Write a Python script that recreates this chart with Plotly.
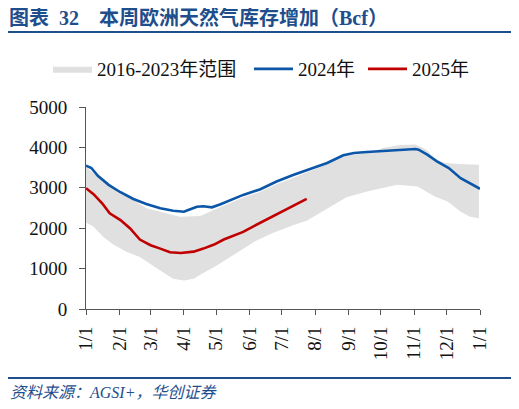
import plotly.graph_objects as go

# day of year (0 = 1/1, 366 = next 1/1), values in Bcf
days_2024 = [0, 5, 11, 21, 32, 44, 56, 69, 81, 91, 95, 103, 109, 117, 125, 131, 146, 162,
             177, 193, 208, 224, 239, 249, 261, 277, 292, 306, 309, 317, 326, 337, 348, 357, 366]
vals_2024 = [3547, 3489, 3297, 3073, 2890, 2724, 2600, 2492, 2434, 2409, 2450, 2533, 2542,
             2517, 2591, 2658, 2824, 2965, 3156, 3322, 3464, 3613, 3804, 3862, 3887, 3920,
             3945, 3962, 3945, 3821, 3655, 3489, 3239, 3115, 2974]

days_2025 = [0, 7, 15, 22, 32, 41, 50, 60, 69, 78, 88, 100, 109, 119, 128, 137, 146, 156,
             165, 174, 184, 193, 205]
vals_2025 = [2990, 2841, 2616, 2367, 2201, 1993, 1719, 1578, 1495, 1404, 1387, 1420, 1495,
             1595, 1719, 1819, 1910, 2052, 2176, 2301, 2434, 2550, 2724]

# 2016-2023 range
band_hi_days = [0, 22, 38, 56, 87, 106, 125, 146, 162, 177, 193, 208, 224, 239, 261, 277,
                292, 306, 316, 325, 334, 346, 365]
band_hi_vals = [3513, 3032, 2799, 2492, 2284, 2301, 2525, 2760, 2900, 3090, 3250, 3400,
                3580, 3780, 3860, 3989, 4060, 4071, 3946, 3697, 3615, 3590, 3572]
band_lo_days = [0, 7, 16, 25, 38, 50, 60, 69, 81, 91, 100, 109, 122, 137, 156, 174, 193,
                205, 224, 242, 261, 289, 308, 324, 336, 348, 357, 365]
band_lo_vals = [2143, 2035, 1786, 1603, 1412, 1287, 1121, 955, 748, 706, 748, 889, 1080,
                1329, 1661, 1885, 2077, 2184, 2492, 2766, 2907, 3074, 3032, 2782, 2658,
                2408, 2284, 2244]

month_days = [0, 31, 60, 91, 121, 152, 182, 213, 244, 274, 305, 335, 366]
month_labels = ["1/1", "2/1", "3/1", "4/1", "5/1", "6/1", "7/1", "8/1", "9/1", "10/1",
                "11/1", "12/1", "1/1"]

serif = "Liberation Serif, Times New Roman, Noto Sans CJK SC"
navy = "#1F4E8C"

# page body has an 8px margin, so the figure is 8px smaller and everything sits 8px in
W, H, OFF = 511, 401, 8
PL, PT, PW, PH = 86, 107, 394, 202   # plot area in screen pixels


def cy(py):
    return 1 - (py - OFF) / H


def px_(x):
    return (x - PL) / PW


def py_(y):
    return (PT + PH - y) / PH


fig = go.Figure()
fig.add_trace(go.Scatter(
    x=band_hi_days + band_lo_days[::-1],
    y=band_hi_vals + band_lo_vals[::-1],
    fill="toself", fillcolor="#E0E0E0", line=dict(width=0),
    mode="lines", name="2016-2023年范围", hoverinfo="skip", legend="legend"))
fig.add_trace(go.Scatter(x=days_2024, y=vals_2024, mode="lines", name="2024年",
                         line=dict(color="#0B56A8", width=2.6), legend="legend2"))
fig.add_trace(go.Scatter(x=days_2025, y=vals_2025, mode="lines", name="2025年",
                         line=dict(color="#C00000", width=2.6), legend="legend3"))

leg = dict(orientation="h", xanchor="left", xref="container", yanchor="middle",
           yref="container", y=cy(69), font=dict(size=19, family=serif),
           bgcolor="rgba(0,0,0,0)", itemwidth=39)

fig.update_layout(
    width=W, height=H,
    margin=dict(l=PL - OFF, r=W + OFF - PL - PW, t=PT - OFF, b=H + OFF - PT - PH,
                autoexpand=False),
    paper_bgcolor="white", plot_bgcolor="white",
    font=dict(family=serif, size=19, color="#111111"),
    showlegend=True,
    legend=dict(leg, x=(48 - OFF) / W),
    legend2=dict(leg, x=(249 - OFF) / W),
    legend3=dict(leg, x=(363 - OFF) / W),
    shapes=[
        dict(type="line", xref="paper", yref="paper", x0=px_(5), x1=px_(513),
             y0=py_(32), y1=py_(32), line=dict(color=navy, width=2)),
        dict(type="line", xref="paper", yref="paper", x0=px_(5), x1=px_(513),
             y0=py_(378), y1=py_(378), line=dict(color=navy, width=2)),
    ],
    annotations=[
        dict(text="<b>图表\u200232\u2003本周欧洲天然气库存增加（Bcf）</b>",
             xref="paper", yref="paper", x=px_(7), xanchor="left", y=py_(17),
             yanchor="middle", showarrow=False,
             font=dict(size=20, color=navy, family=serif)),
        dict(text="<i>资料来源：AGSI+，华创证券</i>", xref="paper", yref="paper",
             x=px_(8), xanchor="left", y=py_(392), yanchor="middle",
             showarrow=False, font=dict(size=16, color=navy, family=serif)),
    ],
)

fig.update_xaxes(range=[0, 366], tickmode="array", tickvals=month_days, ticktext=month_labels,
                 tickangle=-90, ticks="outside", ticklen=5, tickcolor="#555",
                 showline=True, linecolor="#555", linewidth=1, showgrid=False,
                 zeroline=False, tickfont=dict(size=19), ticklabelstandoff=4, automargin=False)
fig.update_yaxes(range=[0, 5000], dtick=1000, ticks="outside", ticklen=6, tickcolor="#555",
                 showline=True, linecolor="#555", linewidth=1, showgrid=False,
                 zeroline=False, tickfont=dict(size=19), ticklabelstandoff=8, automargin=False)

fig.write_html("out.html")
